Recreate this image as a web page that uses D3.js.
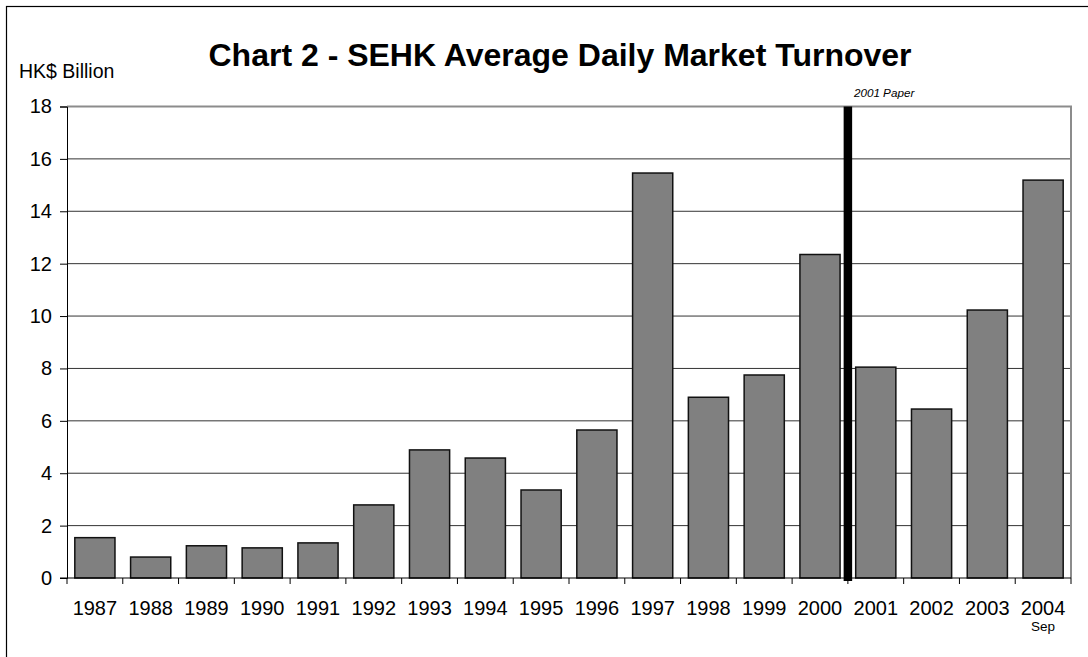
<!DOCTYPE html>
<html>
<head>
<meta charset="UTF-8">
<style>
body {
	margin: 0 ;
	background-color: #ffffff ;
	font-family: "Liberation Sans", Arial, Helvetica, sans-serif ;
}
</style>
<title>SEHK Turnover</title>
<script src="https://cdn.jsdelivr.net/npm/d3@7"></script>
</head>
<body>
<div id="chart"></div>
<script type="text/javascript">

	// values (HK$ billion)
	const years = [ "1987", "1988", "1989", "1990", "1991", "1992", "1993", "1994", "1995",
		"1996", "1997", "1998", "1999", "2000", "2001", "2002", "2003", "2004" ] ;
	const turnover = [ 1.54, 0.80, 1.23, 1.15, 1.34, 2.79, 4.89, 4.58, 3.36,
		5.65, 15.46, 6.90, 7.75, 12.35, 8.05, 6.45, 10.23, 15.19 ] ;
	const yTicks = [ 0, 2, 4, 6, 8, 10, 12, 14, 16, 18 ] ;
	const markerYear = "2001" ;	// "2001 Paper" divider sits before this year

	const width = 1088 ;
	const height = 657 ;
	const plotLeft = 67, plotRight = 1071, plotTop = 106.5, plotBottom = 578 ;

	const svg = d3.select( "#chart" ).append( "svg" )
		.attr( "width", width )
		.attr( "height", height ) ;

	// outer frame (only top and left edges show)
	svg.append( "rect" )
		.attr( "x", 6.5 ).attr( "y", 6.5 )
		.attr( "width", width + 10 ).attr( "height", height + 10 )
		.attr( "fill", "none" ).attr( "stroke", "#000" ).attr( "stroke-width", 1.2 ) ;

	const x = d3.scaleBand()
		.domain( years )
		.range( [ plotLeft, plotRight ] )
		.paddingInner( 0.28 )
		.paddingOuter( 0.14 ) ;

	const y = d3.scaleLinear()
		.domain( [ 0, 18 ] )
		.range( [ plotBottom, plotTop ] ) ;

	// gridlines
	svg.append( "g" )
		.selectAll( "line" )
		.data( yTicks.filter( function(t) { return t > 0 && t < 18 } ) )
		.enter()
			.append( "line" )
				.attr( "x1", plotLeft ).attr( "x2", plotRight )
				.attr( "y1", function(t) { return y(t) } )
				.attr( "y2", function(t) { return y(t) } )
				.attr( "stroke", "#333" )
				.attr( "stroke-width", 1 ) ;

	// plot border top + right (grey)
	svg.append( "path" )
		.attr( "d", "M" + plotLeft + "," + y(18) + "H" + plotRight + "V" + plotBottom )
		.attr( "fill", "none" )
		.attr( "stroke", "#8c8c8c" )
		.attr( "stroke-width", 2 ) ;

	// bars
	svg.append( "g" )
		.selectAll( "rect" )
		.data( years )
		.enter()
			.append( "rect" )
				.attr( "x", function(d) { return x(d) } )
				.attr( "width", x.bandwidth() )
				.attr( "y", function(d, i) { return y( turnover[i] ) } )
				.attr( "height", function(d, i) { return y(0) - y( turnover[i] ) } )
				.attr( "fill", "#808080" )
				.attr( "stroke", "#111" )
				.attr( "stroke-width", 1.5 ) ;

	// y axis
	const yAxis = d3.axisLeft( y )
		.tickValues( yTicks )
		.tickSize( 7 )
		.tickPadding( 8 ) ;
	const gy = svg.append( "g" )
		.attr( "transform", "translate(" + plotLeft + ",0)" )
		.call( yAxis ) ;
	gy.select( ".domain" ).attr( "stroke", "#000" ) ;
	gy.selectAll( "text" )
		.attr( "font-size", "20px" )
		.attr( "font-family", "'Liberation Sans', Arial, sans-serif" )
		.attr( "fill", "#000" ) ;

	// x axis baseline and ticks at band boundaries
	const step = x.step() ;
	const gap = ( step - x.bandwidth() ) / 2 ;
	const boundaries = years.map( function(d) { return x(d) - gap } ) ;
	boundaries.push( plotRight ) ;
	svg.append( "line" )
		.attr( "x1", plotLeft - 7 ).attr( "x2", plotRight )
		.attr( "y1", plotBottom ).attr( "y2", plotBottom )
		.attr( "stroke", "#000" ) ;
	svg.append( "g" )
		.selectAll( "line" )
		.data( boundaries )
		.enter()
			.append( "line" )
				.attr( "x1", function(b) { return b } )
				.attr( "x2", function(b) { return b } )
				.attr( "y1", plotBottom ).attr( "y2", plotBottom + 6 )
				.attr( "stroke", "#000" ) ;

	svg.append( "g" )
		.selectAll( "text" )
		.data( years )
		.enter()
			.append( "text" )
				.attr( "x", function(d) { return x(d) + x.bandwidth() / 2 } )
				.attr( "y", 615 )
				.attr( "text-anchor", "middle" )
				.attr( "font-size", "20px" )
				.text( function(d) { return d } ) ;

	svg.append( "text" )
		.attr( "x", x( "2004" ) + x.bandwidth() / 2 )
		.attr( "y", 631 )
		.attr( "text-anchor", "middle" )
		.attr( "font-size", "13.5px" )
		.text( "Sep" ) ;

	// 2001 Paper divider
	const mx = x( markerYear ) - gap ;
	svg.append( "line" )
		.attr( "x1", mx ).attr( "x2", mx )
		.attr( "y1", y(18) ).attr( "y2", plotBottom + 3 )
		.attr( "stroke", "#000" )
		.attr( "stroke-width", 8.5 ) ;
	svg.append( "text" )
		.attr( "x", mx + 6 )
		.attr( "y", 97 )
		.attr( "font-size", "11.7px" )
		.attr( "font-style", "italic" )
		.text( "2001 Paper" ) ;

	// titles
	svg.append( "text" )
		.attr( "x", 560 )
		.attr( "y", 66 )
		.attr( "text-anchor", "middle" )
		.attr( "font-size", "32px" )
		.attr( "font-weight", "bold" )
		.text( "Chart 2 - SEHK Average Daily Market Turnover" ) ;

	svg.append( "text" )
		.attr( "x", 19 )
		.attr( "y", 78 )
		.attr( "font-size", "19.5px" )
		.text( "HK$ Billion" ) ;

</script>
</body>
</html>
